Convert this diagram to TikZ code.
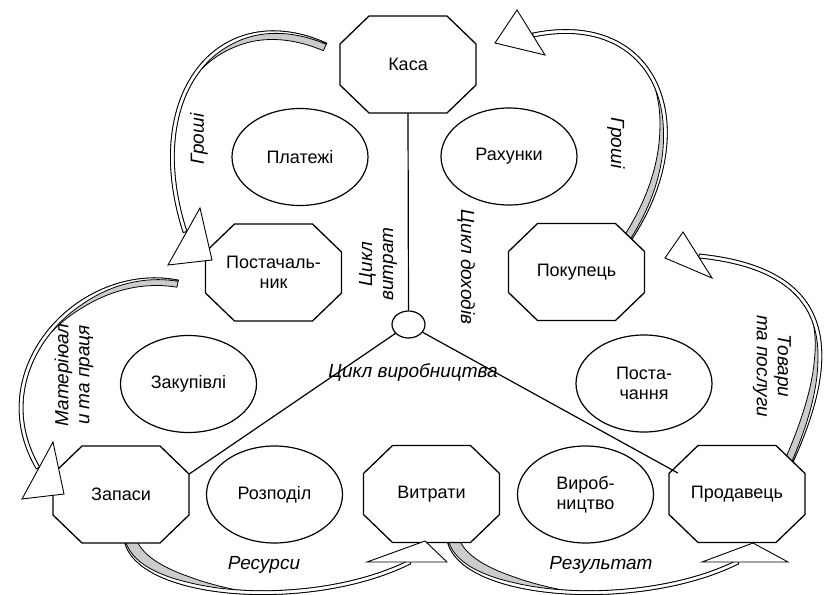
\documentclass[tikz,border=0pt]{standalone}
\usepackage{fontspec}
\setmainfont{Liberation Sans}
\usetikzlibrary{calc,shapes.geometric}
\newcommand\mainfs{\fontsize{18}{20.5}\selectfont}
\newcommand\labfs{\fontsize{19}{21}\selectfont}
\tikzset{
 declare function={
  bz(\x,\pa,\pb,\pc,\pd)=(1-\x)*(1-\x)*(1-\x)*(\pa)+3*(1-\x)*(1-\x)*\x*(\pb)+3*(1-\x)*\x*\x*(\pc)+\x*\x*\x*(\pd);
  bd(\x,\pa,\pb,\pc,\pd)=0.03*((1-\x)*(1-\x)*((\pb)-(\pa))+2*(1-\x)*\x*((\pc)-(\pb))+\x*\x*((\pd)-(\pc)));
  bxf(\x)=bz(\x,\Ax,\Bx,\Cx,\Dx);
  byf(\x)=bz(\x,\Ay,\By,\Cy,\Dy);
  dux(\x)=bd(\x,\Ax,\Bx,\Cx,\Dx);
  duy(\x)=bd(\x,\Ay,\By,\Cy,\Dy);
  nrx(\x)=-duy(\x)/veclen(dux(\x),duy(\x));
  nry(\x)=dux(\x)/veclen(dux(\x),duy(\x));
  offo(\x)=1.9;
  offm(\x)=0.7-2.6*min(1,\x/0.35);
  offi(\x)=offm(\x)-\Gw*max(0,1-\x/0.5)*(2-max(0,1-\x/0.5));
 },
 rib/.style={variable=\t,domain=0:1,samples=61},
 ribline/.style={draw=black,line width=0.8pt,line join=round},
 octline/.style={draw=black,fill=white,line width=1.3pt,line join=miter},
 octtext/.style={minimum width=136pt,minimum height=97pt,inner sep=0pt,align=center,font=\mainfs},
 ell/.style={ellipse,draw,fill=white,line width=1.2pt,minimum width=136pt,minimum height=97pt,inner sep=0pt,align=center,font=\mainfs},
 conn/.style={line width=1.2pt},
 head/.style={draw,fill=white,line width=0.9pt,line join=miter},
 lab/.style={font=\labfs\itshape,align=center,inner sep=0pt},
}
\newcommand\ribbon[9]{%
 \def\Ax{#1}\def\Ay{#2}\def\Bx{#3}\def\By{#4}\def\Cx{#5}\def\Cy{#6}\def\Dx{#7}\def\Dy{#8}\def\Gw{#9}%
 \filldraw[ribline,fill=gray!40] plot[rib] ({bxf(\t)+offo(\t)*nrx(\t)},{byf(\t)+offo(\t)*nry(\t)}) -- plot[rib] ({bxf(1-\t)+offi(1-\t)*nrx(1-\t)},{byf(1-\t)+offi(1-\t)*nry(1-\t)}) -- cycle;
 \filldraw[ribline,fill=white] plot[rib] ({bxf(\t)+offo(\t)*nrx(\t)},{byf(\t)+offo(\t)*nry(\t)}) -- plot[rib] ({bxf(1-\t)+offm(1-\t)*nrx(1-\t)},{byf(1-\t)+offm(1-\t)*nry(1-\t)}) -- cycle;
}
\newcommand\octag[3]{%
 \filldraw[octline] ($(#2)+(-68,-20.5)$) -- ($(#2)+(-39,-48.5)$) -- ($(#2)+(39,-48.5)$) -- ($(#2)+(68,-20.5)$) -- ($(#2)+(68,20.5)$) -- ($(#2)+(39,48.5)$) -- ($(#2)+(-39,48.5)$) -- ($(#2)+(-68,20.5)$) -- cycle;
 \node[octtext] (#1) at (#2) {#3};}
\begin{document}
\begin{tikzpicture}[x=1pt,y=-1pt]
\useasboundingbox (0,0) rectangle (824,594);
\clip (0,0) rectangle (824,594);
% curved block arrows (ribbons)
\ribbon{326}{45}{222}{-2}{140}{92}{185}{232}{7}
\ribbon{625}{246}{706}{132}{660}{9}{533}{35}{7}
\ribbon{178}{282}{80}{263}{-19.5}{370}{38}{468}{6}
\ribbon{790}{464}{840.4}{355}{837.6}{270}{699}{256}{7}
\ribbon{126}{540}{138}{599}{311}{611.5}{410}{562}{11}
\ribbon{449}{540}{461}{599}{639}{611.5}{738}{562}{11}
% octagons
\octag{kasa}{408,64.5}{Каса}
\octag{post}{273.5,272.5}{Постачаль-\\ник}
\octag{pok}{576.5,272}{Покупець}
\octag{zap}{121,494.5}{Запаси}
\octag{vyt}{431.5,494}{Витрати}
\octag{prod}{737,494}{Продавець}
% ellipses
\node[ell] (plat) at (300,157) {Платежі};
\node[ell] (rah) at (509,156.5) {Рахунки};
\node[ell] (zak) at (188.5,384) {Закупівлі};
\node[ell] (postach) at (644,383.5) {Поста-\\чання};
\node[ell] (rozp) at (274.5,494.5) {Розподіл};
\node[ell] (vyrob) at (585.5,494.5) {Вироб-\\ництво};
\node[ell,minimum width=33pt,minimum height=27pt] (hub) at (408.5,324.5) {};
% connectors
\coordinate (zapc) at ($(zap.east)+(0,-20.5)$);
\coordinate (prodc) at ($(prod.west)+(9,-21)$);
\draw[conn] (kasa.south) -- (hub.north);
\draw[conn] (hub) -- (zapc);
\draw[conn] (hub) -- (prodc);
% arrow heads
\filldraw[head] (200,208) -- (212,260) -- (168,265) -- cycle;
\filldraw[head] (517,10) -- (495,43) -- (545,55) -- cycle;
\filldraw[head] (53,442) -- (64,494) -- (22,499) -- cycle;
\filldraw[head] (683,232) -- (665,258) -- (712,278) -- cycle;
\filldraw[head] (367,562) -- (425,541) -- (447,562) -- cycle;
\filldraw[head] (702,562) -- (753,543) -- (788,562) -- cycle;
% labels
\node[lab,rotate=90] (groshiL) at (199,139) {Гроші};
\node[lab,rotate=-90] (groshiR) at (616,143) {Гроші};
\node[lab,rotate=90] (cvyt) at (378,264) {Цикл\\витрат};
\node[lab,rotate=-90] (cdoh) at (466,267) {Цикл доходів};
\node[lab,rotate=90] (mat) at (74,375) {Матеріюал\\и та праця};
\node[lab,rotate=-90] (tov) at (772,366) {Товари\\та послуги};
\node[lab] (cvyr) at (413,372) {Цикл виробництва};
\node[lab] (res) at (264,565) {Ресурси};
\node[lab] (rez) at (601,565) {Результат};
\end{tikzpicture}
\end{document}
